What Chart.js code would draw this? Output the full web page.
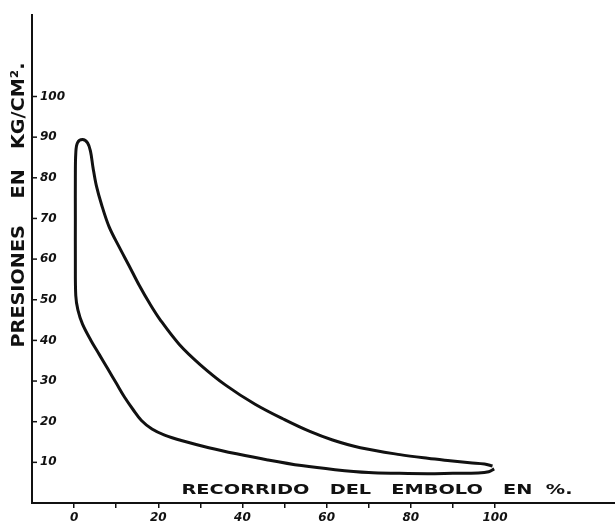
<!DOCTYPE html>
<html>
<head>
<meta charset="utf-8">
<script src="https://cdn.jsdelivr.net/npm/chart.js@4.4.1/dist/chart.umd.min.js"></script>
<style>
  html, body { margin: 0; padding: 0; background: #fff; }
</style>
</head>
<body>
<canvas id="diagrama" width="615" height="526"></canvas>
<script>
// Diagrama indicado: recorrido del embolo (%) y presion (kg/cm2), leido del dibujo
// compresion: de la punta derecha hacia el punto muerto
const compressionX = [99.8, 98.5, 96, 90, 84, 77, 70, 62, 54, 46, 38.6, 32, 25.7, 21.5, 18.5, 16, 14, 12, 10, 8, 6, 4, 2, 0.9, 0.4];
const compressionP = [8.4, 7.7, 7.4, 7.3, 7.2, 7.3, 7.5, 8.2, 9.2, 10.6, 12.1, 13.6, 15.3, 16.7, 18.2, 20.3, 23, 26, 29.5, 33, 36.5, 40, 44, 47.5, 51];
// admision: linea casi vertical hasta el pico
const admissionX = [0.3, 0.3, 0.3, 0.4, 0.8, 2];
const admissionP = [60, 70, 80, 86, 88.6, 89.4];
// expansion: del pico hasta la punta derecha
const expansionX = [3.2, 3.9, 4.5, 5.3, 6.5, 8.3, 10.7, 13, 15.5, 18, 20.5, 25, 30, 36, 43, 50, 56, 61.4, 68, 77.4, 84, 89.3, 94, 97.5, 99.4];
const expansionP = [88.6, 86.5, 82.5, 78, 73.5, 68, 63, 58.5, 53.5, 49, 45, 39, 34, 29, 24.3, 20.5, 17.6, 15.5, 13.6, 11.9, 11, 10.4, 9.9, 9.6, 9.1];

const xTicks = [0, 10, 20, 30, 40, 50, 60, 70, 80, 90, 100];
const xLabels = [0, 20, 40, 60, 80, 100];
const yTicks = [10, 20, 30, 40, 50, 60, 70, 80, 90, 100];

const xTitle = 'RECORRIDO   DEL   EMBOLO   EN  %.';
const yTitle = 'PRESIONES    EN   KG/CM².';

const ink = '#111';
const tickFont = { family: "'DejaVu Sans'", size: 12, style: 'italic', weight: 'bold' };

// estira un texto para que ocupe el largo dado
function fitText(ctx, text, cx, cy, length, angle, font) {
  ctx.save();
  ctx.font = font;
  ctx.fillStyle = ink;
  ctx.textAlign = 'center';
  ctx.textBaseline = 'middle';
  const w = ctx.measureText(text).width;
  ctx.translate(cx, cy);
  ctx.rotate(angle);
  ctx.scale(length / w, 1);
  ctx.fillText(text, 0, 0);
  ctx.restore();
}

const lettering = {
  id: 'lettering',
  afterDraw(chart) {
    const { ctx } = chart;
    const y = chart.scales.y;
    ctx.save();
    ctx.strokeStyle = ink;
    ctx.lineWidth = 1.5;
    yTicks.forEach(v => {
      const py = y.getPixelForValue(v);
      ctx.beginPath();
      ctx.moveTo(y.right, py);
      ctx.lineTo(y.right + 5, py);
      ctx.stroke();
    });
    ctx.restore();
    fitText(ctx, xTitle, 377, 490, 391, 0, "bold 14px 'DejaVu Sans'");
    fitText(ctx, yTitle, 19, 205, 285, -Math.PI / 2, "bold 18px 'DejaVu Sans'");
  }
};

const loopX = compressionX.concat(admissionX, expansionX);
const loopP = compressionP.concat(admissionP, expansionP);

new Chart(document.getElementById('diagrama'), {
  type: 'scatter',
  data: {
    datasets: [{
      data: loopX.map((x, i) => ({ x: x, y: loopP[i] })),
      showLine: true,
      borderColor: ink,
      borderWidth: 3,
      pointRadius: 0,
      tension: 0.35,
      fill: false
    }]
  },
  options: {
    responsive: false,
    animation: false,
    layout: { padding: { top: 10, right: 0, bottom: 0, left: 0 } },
    plugins: { legend: { display: false }, tooltip: { enabled: false } },
    scales: {
      x: {
        type: 'linear',
        position: 'bottom',
        min: -10,
        max: 128.5,
        border: { color: ink, width: 2 },
        grid: { drawOnChartArea: false, drawTicks: true, tickLength: 5, color: ink, lineWidth: 1.5 },
        ticks: {
          autoSkip: false,
          maxRotation: 0,
          padding: 3,
          color: ink,
          font: tickFont,
          callback: v => xLabels.includes(v) ? String(v) : ''
        },
        afterBuildTicks: s => { s.ticks = xTicks.map(v => ({ value: v })); },
        afterFit: s => { s.height = 23; }
      },
      y: {
        type: 'linear',
        position: 'left',
        min: 0,
        max: 120,
        border: { color: ink, width: 2 },
        grid: { drawOnChartArea: false, drawTicks: false },
        ticks: {
          mirror: true,
          padding: 8,
          color: ink,
          font: tickFont,
          callback: v => String(v)
        },
        afterBuildTicks: s => { s.ticks = yTicks.map(v => ({ value: v })); },
        afterFit: s => { s.width = 32; }
      }
    }
  },
  plugins: [lettering]
});
</script>
</body>
</html>
